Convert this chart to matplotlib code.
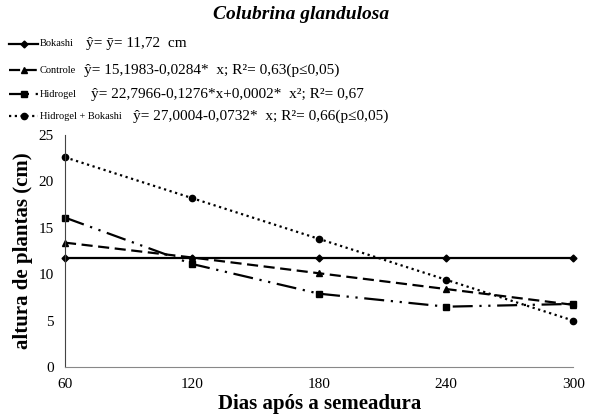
import matplotlib
matplotlib.use("Agg")
import matplotlib.pyplot as plt
from matplotlib.lines import Line2D

plt.rcParams['font.family'] = ['Liberation Serif', 'DejaVu Serif']

dias = [60, 120, 180, 240, 300]
bokashi = [11.72, 11.72, 11.72, 11.72, 11.72]
controle = [13.4, 11.8, 10.1, 8.4, 6.7]
hidrogel = [16.1, 11.1, 7.9, 6.5, 6.8]
hidrogel_bokashi = [22.6, 18.2, 13.8, 9.4, 5.0]

nomes = ["Bokashi", "Controle", "Hidrogel", "Hidrogel + Bokashi"]
equacoes = [
    "ŷ= ȳ= 11,72  cm",
    "ŷ= 15,1983-0,0284*  x; R²= 0,63(p≤0,05)",
    "ŷ= 22,7966-0,1276*x+0,0002*  x²; R²= 0,67",
    "ŷ= 27,0004-0,0732*  x; R²= 0,66(p≤0,05)",
]
series = [bokashi, controle, hidrogel, hidrogel_bokashi]
estilos = [
    dict(linestyle='-', marker='D', markersize=3.5),
    dict(linestyle=(0, (5, 2.5)), marker='^', markersize=5),
    dict(linestyle=(0, (9, 3, 1, 3, 1, 3)), marker='s', markersize=5),
    dict(linestyle=(0, (1, 1.6)), marker='o', markersize=4.5),
]

fig = plt.figure(figsize=(5.91, 4.18), dpi=100)
ax = fig.add_axes([0.110, 0.122, 0.860, 0.555])

for y, st in zip(series, estilos):
    ax.plot(dias, y, color='black', linewidth=1.6, clip_on=False, **st)

ax.set_xlim(60, 300)
ax.set_ylim(0, 25)
ax.set_xticks(dias)
ax.set_yticks([0, 5, 10, 15, 20, 25])
ax.tick_params(length=0, labelsize=11, pad=8)
ax.spines['top'].set_visible(False)
ax.spines['right'].set_visible(False)
ax.spines['left'].set_color('#444444')
ax.spines['bottom'].set_color('#888888')
ax.set_xlabel("Dias após a semeadura", fontsize=15, fontweight='bold', labelpad=2)
ax.set_ylabel("altura de plantas (cm)", fontsize=15, fontweight='bold', labelpad=4)

fig.text(0.51, 0.965, "Colubrina glandulosa", ha='center', va='center',
         fontsize=14, fontweight='bold', fontstyle='italic')

# legenda desenhada à mão: amostra da linha, nome e equação
linhas_y = [0.895, 0.832, 0.775, 0.722]
eq_x = [0.145, 0.142, 0.154, 0.225]
for yy, nome, eq, st, ex in zip(linhas_y, nomes, equacoes, estilos, eq_x):
    fig.add_artist(Line2D([0.015, 0.065], [yy, yy], transform=fig.transFigure,
                          color='black', linewidth=1.6, linestyle=st['linestyle']))
    fig.add_artist(Line2D([0.040], [yy], transform=fig.transFigure, color='black',
                          marker=st['marker'], markersize=st['markersize']))
    fig.text(0.067, yy, nome, fontsize=7.5, va='center')
    fig.text(ex, yy, eq, fontsize=11, va='center')

fig.savefig("out.png", dpi=100, facecolor='white')
